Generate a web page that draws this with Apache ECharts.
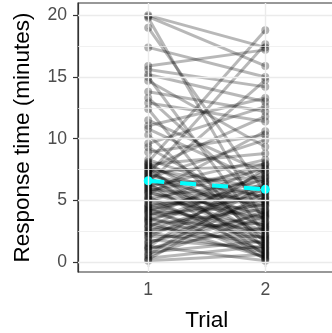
<!DOCTYPE html>
<html><head><meta charset="utf-8">
<script src="https://cdn.jsdelivr.net/npm/echarts@6/dist/echarts.min.js"></script>
<style>html,body{margin:0;padding:0;background:#fff}#c{width:332px;height:333px}</style>
</head><body><div id="c"></div>
<script>
// Trial positions on the x axis
const trials = [1, 2];
// Response time (minutes) per subject at trial 1 and trial 2 (paired by index)
const trial1 = [20.0, 19.9, 19.8, 19.0, 17.4, 15.9, 15.6, 15.2, 15.0, 14.7,
  13.8, 13.3, 12.9, 12.4, 11.5, 11.05, 10.8, 10.3, 9.6, 9.3,
  8.9, 8.3, 8.1, 8.0, 7.9, 7.8, 7.7, 7.6, 7.5, 7.4,
  7.3, 7.2, 7.1, 7.0, 6.9, 6.8, 6.7, 6.6, 6.5, 6.4,
  6.3, 6.2, 6.1, 6.0, 5.9, 5.8, 5.7, 5.6, 5.5, 5.3,
  5.2, 5.1, 5.0, 4.9, 4.7, 4.6, 4.5, 4.4, 4.3, 4.2,
  4.1, 4.0, 3.9, 3.7, 3.6, 3.5, 3.4, 3.3, 3.2, 3.0,
  2.9, 2.8, 2.6, 2.5, 2.4, 2.3, 2.1, 2.0, 1.8, 1.6,
  1.5, 1.3, 1.2, 1.1, 1.0, 0.8, 0.6, 0.5, 0.3, 0.2, 0.1];
const trial2 = [17.4, 15.9, 3.1, 5.6, 15.0, 17.2, 14.2, 13.0, 2.2, 9.35,
  12.2, 4.7, 11.4, 0.9, 7.2, 13.3, 6.4, 1.6, 12.6, 3.8,
  10.3, 5.1, 18.8, 2.7, 8.8, 4.2, 0.5, 11.8, 6.0, 2.0,
  7.9, 3.5, 17.65, 5.3, 1.2, 9.9, 4.5, 2.9, 14.75, 0.2,
  6.9, 3.3, 8.3, 1.8, 5.0, 7.5, 2.5, 4.0, 10.6, 0.7,
  6.6, 3.6, 1.4, 8.0, 4.9, 2.3, 6.1, 0.3, 5.8, 3.0,
  7.0, 1.9, 4.6, 7.8, 1.0, 5.5, 2.6, 6.8, 0.4, 4.3,
  1.5, 7.3, 3.2, 5.9, 0.8, 4.8, 2.1, 6.5, 1.1, 3.9,
  5.2, 0.1, 7.6, 2.8, 4.1, 1.7, 6.3, 3.7, 1.3, 5.7, 0.6];
// Mean response time per trial (dashed cyan)
const meanValues = [6.59, 5.89];
// Axis ticks
const xTicks = [1, 2];
const yTicks = [0, 5, 10, 15, 20];
const yMinor = [2.5, 7.5, 12.5, 17.5];

const FONT = 'Liberation Sans, Arial, sans-serif';
const chart = echarts.init(document.getElementById('c'), null, {renderer: 'canvas'});

const gridLineData = yTicks.map(v => ({yAxis: v, lineStyle: {width: 1.4}}))
  .concat(yMinor.map(v => ({yAxis: v, lineStyle: {width: 0.7}})))
  .concat(xTicks.map(v => ({xAxis: v, lineStyle: {width: 1.4}})));

const option = {
  animation: false,
  backgroundColor: '#ffffff',
  grid: {left: 78, top: 3, right: -3.5, bottom: 61, show: true,
    containLabel: false, outerBoundsMode: 'none',
    borderColor: '#333333', borderWidth: 1.2, backgroundColor: 'transparent'},
  xAxis: {
    type: 'value', min: 0.4, max: 2.6,
    name: 'Trial', nameLocation: 'middle', nameGap: 37,
    nameTextStyle: {fontSize: 22.5, color: '#000', fontFamily: FONT},
    axisLine: {show: true, lineStyle: {color: '#333333', width: 1.2}},
    axisTick: {show: true, customValues: xTicks, length: 5, lineStyle: {color: '#333333', width: 1.2}},
    axisLabel: {show: true, customValues: xTicks, margin: 9, fontSize: 17.6, color: '#4d4d4d', fontFamily: FONT},
    splitLine: {show: false}
  },
  yAxis: {
    type: 'value', min: -0.81, max: 21.0,
    name: 'Response time (minutes)', nameLocation: 'middle', nameGap: 44,
    nameTextStyle: {fontSize: 22.5, color: '#000', fontFamily: FONT},
    axisLine: {show: true, lineStyle: {color: '#333333', width: 1.2}},
    axisTick: {show: true, customValues: yTicks, length: 5, lineStyle: {color: '#333333', width: 1.2}},
    axisLabel: {show: true, customValues: yTicks, margin: 11, fontSize: 17.6, color: '#4d4d4d', fontFamily: FONT},
    splitLine: {show: false}
  },
  series: [
    {
      type: 'line', data: [], z: 1, silent: true,
      markLine: {silent: true, symbol: 'none', label: {show: false}, animation: false,
        lineStyle: {color: '#ebebeb', type: 'solid'}, emphasis: {disabled: true},
        data: gridLineData}
    },
    {
      type: 'lines', coordinateSystem: 'cartesian2d', z: 2, silent: true,
      lineStyle: {color: '#000000', opacity: 0.28, width: 3, curveness: 0},
      data: trial1.map((v, i) => ({coords: [[trials[0], v], [trials[1], trial2[i]]]}))
    },
    {
      type: 'scatter', z: 3, silent: true, symbolSize: 8,
      itemStyle: {color: '#000000', opacity: 0.3},
      data: trial1.map(v => [trials[0], v]).concat(trial2.map(v => [trials[1], v]))
    },
    {
      type: 'line', z: 4, silent: true, symbol: 'circle', symbolSize: 9, showSymbol: true,
      itemStyle: {color: '#00ffff'},
      lineStyle: {color: '#00ffff', width: 4, type: [16, 16]},
      data: trials.map((t, i) => [t, meanValues[i]])
    }
  ]
};
chart.setOption(option);
</script>
</body></html>
